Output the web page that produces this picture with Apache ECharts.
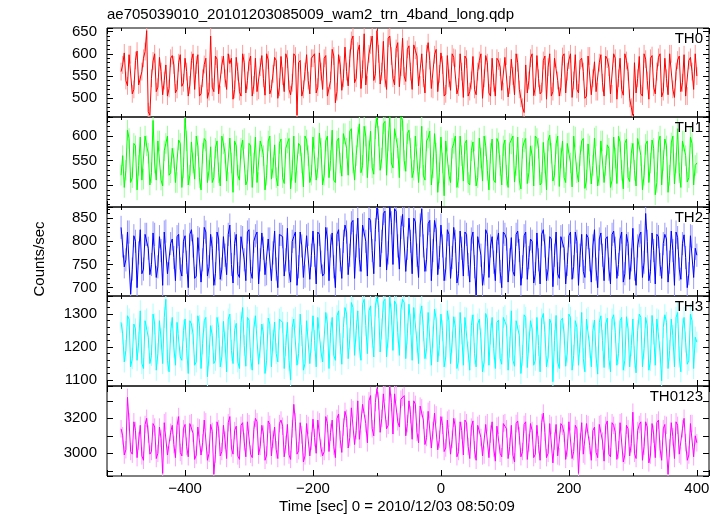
<!DOCTYPE html>
<html><head><meta charset="utf-8">
<script src="https://cdn.jsdelivr.net/npm/echarts@6/dist/echarts.min.js"></script>
<style>html,body{margin:0;padding:0;background:#fff}#c{width:723px;height:516px}</style>
</head><body><div id="c"></div>
<script>
// time bins: the "a" arrays are sampled at -500, -495, ..., 400 s;
// the "b" arrays at the half-way times -497.5, -492.5, ..., 397.5 s
const tStart = -500, tStep = 5;

const th0 = [
560, 602, 528, 598, 520, 606, 532, 590, 652, 462,
584, 515, 592, 508, 575, 522, 596, 512, 580, 527,
590, 505, 585, 520, 598, 510, 576, 500, 640, 515,
588, 508, 595, 520, 578, 498, 592, 515, 600, 512,
582, 505, 590, 518, 596, 507, 586, 522, 592, 500,
594, 515, 588, 508, 600, 462, 585, 520, 598, 510,
590, 512, 602, 520, 596, 505, 610, 490, 598, 518,
615, 528, 630, 535, 606, 522, 645, 530, 620, 540,
652, 532, 628, 520, 640, 545, 612, 526, 635, 538,
618, 520, 608, 528, 600, 512, 625, 522, 598, 515,
602, 505, 596, 518, 592, 510, 600, 502, 588, 515,
594, 508, 585, 500, 596, 512, 590, 505, 584, 518,
592, 503, 588, 508, 580, 500, 468, 512, 590, 506,
596, 510, 585, 498, 600, 515, 588, 505, 594, 512,
586, 502, 598, 512, 590, 500, 595, 508, 582, 515,
598, 505, 588, 510, 600, 498, 590, 507, 585, 500,
462, 512, 594, 505, 588, 498, 596, 510, 592, 503,
590, 508, 600, 502, 586, 515, 598, 505, 592, 520,
550];
const th0b = [
575, 540, 598, 510, 585, 530, 560, 605, 470, 545,
600, 525, 560, 540, 505, 590, 575, 520, 598, 535,
560, 530, 600, 575, 505, 545, 590, 515, 525, 595,
510, 575, 545, 600, 590, 520, 560, 505, 580, 540,
595, 530, 515, 570, 545, 600, 510, 555, 585, 525,
550, 600, 520, 535, 595, 580, 505, 560, 540, 590,
600, 525, 560, 590, 505, 540, 595, 515, 575, 545,
560, 590, 640, 545, 620, 565, 530, 600, 640, 555,
600, 560, 545, 635, 595, 530, 625, 570, 550, 610,
560, 620, 595, 530, 545, 600, 585, 520, 610, 555,
575, 510, 545, 600, 590, 525, 560, 595, 505, 540,
520, 560, 600, 545, 580, 505, 535, 590, 570, 515,
595, 530, 550, 600, 520, 480, 575, 540, 600, 525,
545, 515, 595, 570, 505, 590, 540, 525, 600, 560,
600, 540, 520, 585, 560, 505, 595, 545, 515, 580,
535, 595, 570, 510, 590, 545, 520, 600, 560, 480,
580, 545, 510, 600, 540, 590, 525, 560, 600, 515,
545, 600, 520, 560, 595, 535, 505, 585, 560, 600];

const th1 = [
520, 495, 612, 505, 585, 490, 598, 512, 580, 500,
632, 510, 590, 498, 585, 520, 575, 505, 592, 495,
636, 500, 588, 512, 580, 490, 595, 505, 578, 515,
590, 498, 584, 508, 596, 485, 580, 510, 592, 500,
585, 495, 598, 505, 578, 490, 590, 512, 582, 498,
594, 503, 586, 492, 600, 508, 580, 496, 592, 505,
598, 510, 606, 500, 590, 515, 612, 505, 596, 518,
605, 520, 615, 510, 598, 525, 620, 515, 610, 522,
638, 530, 625, 520, 640, 535, 618, 515, 632, 528,
612, 515, 600, 505, 620, 510, 596, 500, 605, 485,
598, 478, 590, 505, 585, 495, 600, 508, 592, 500,
588, 498, 596, 508, 580, 490, 594, 505, 586, 500,
592, 495, 584, 506, 598, 492, 588, 503, 580, 498,
595, 500, 587, 490, 602, 508, 584, 497, 590, 505,
586, 496, 598, 506, 590, 493, 584, 502, 596, 498,
590, 505, 582, 495, 598, 503, 588, 492, 594, 507,
585, 498, 596, 490, 583, 505, 592, 480, 588, 500,
594, 485, 586, 502, 615, 495, 590, 506, 598, 500,
545];
const th1b = [
560, 530, 595, 515, 580, 540, 510, 600, 565, 525,
545, 590, 510, 570, 600, 525, 555, 505, 585, 535,
590, 520, 545, 600, 515, 565, 590, 530, 505, 575,
525, 600, 565, 505, 545, 590, 520, 575, 595, 510,
580, 545, 505, 590, 560, 520, 600, 535, 515, 585,
515, 575, 595, 530, 505, 585, 545, 600, 560, 520,
595, 535, 575, 520, 600, 550, 510, 590, 545, 605,
575, 610, 545, 560, 625, 540, 600, 570, 535, 615,
600, 555, 630, 590, 545, 615, 575, 640, 550, 605,
575, 530, 600, 555, 520, 590, 610, 535, 565, 525,
545, 590, 520, 575, 600, 515, 560, 585, 505, 570,
590, 515, 555, 600, 530, 565, 510, 595, 540, 580,
520, 585, 600, 540, 510, 575, 595, 525, 560, 600,
575, 505, 545, 590, 565, 520, 600, 555, 515, 585,
545, 600, 525, 560, 595, 510, 580, 540, 600, 520,
590, 540, 575, 510, 555, 600, 530, 585, 515, 565,
530, 595, 560, 520, 590, 545, 575, 505, 600, 550,
580, 520, 600, 545, 525, 590, 560, 515, 585, 540];

const th2 = [
830, 745, 820, 686, 812, 700, 825, 740, 815, 728,
818, 722, 810, 705, 822, 730, 805, 715, 815, 725,
812, 700, 825, 720, 808, 712, 830, 725, 815, 705,
820, 718, 810, 728, 835, 710, 815, 722, 808, 715,
825, 720, 812, 708, 818, 728, 805, 715, 822, 700,
815, 725, 828, 712, 810, 705, 820, 722, 812, 718,
822, 708, 815, 725, 830, 715, 818, 700, 825, 720,
835, 728, 840, 720, 850, 735, 838, 725, 845, 730,
872, 745, 860, 738, 875, 750, 865, 740, 858, 735,
850, 730, 842, 722, 870, 735, 838, 715, 845, 728,
835, 715, 825, 720, 830, 710, 822, 725, 815, 712,
820, 684, 812, 705, 825, 722, 810, 715, 818, 700,
815, 712, 808, 725, 822, 705, 812, 718, 805, 710,
818, 708, 825, 715, 810, 702, 820, 720, 812, 708,
812, 718, 820, 705, 815, 722, 808, 712, 825, 700,
818, 715, 810, 708, 822, 720, 805, 712, 815, 718,
828, 705, 812, 722, 860, 715, 818, 708, 810, 720,
815, 712, 822, 705, 808, 718, 814, 700, 812, 722,
770];
const th2b = [
790, 760, 820, 740, 800, 775, 730, 815, 785, 750,
815, 745, 780, 820, 730, 795, 765, 810, 740, 800,
755, 815, 790, 725, 805, 760, 820, 745, 785, 730,
805, 740, 770, 815, 750, 795, 730, 810, 760, 820,
735, 800, 820, 760, 785, 730, 805, 775, 740, 815,
810, 760, 735, 800, 820, 745, 790, 725, 815, 770,
770, 820, 755, 730, 805, 790, 745, 815, 760, 800,
820, 770, 845, 790, 760, 835, 800, 850, 780, 825,
845, 800, 865, 775, 840, 870, 790, 830, 855, 785,
800, 850, 770, 835, 790, 760, 845, 780, 825, 765,
790, 740, 815, 765, 800, 730, 785, 820, 750, 805,
745, 810, 770, 730, 815, 790, 755, 800, 735, 820,
805, 760, 735, 815, 780, 745, 820, 765, 800, 730,
760, 815, 790, 740, 805, 770, 730, 810, 785, 750,
820, 745, 800, 770, 735, 815, 760, 790, 740, 805,
770, 805, 740, 815, 785, 750, 820, 730, 795, 760,
740, 790, 820, 755, 800, 735, 780, 815, 750, 795,
805, 755, 780, 820, 740, 795, 765, 730, 810, 785];

const th3 = [
1275, 1155, 1295, 1140, 1270, 1160, 1310, 1135, 1285, 1150,
1300, 1130, 1280, 1150, 1345, 1125, 1290, 1145, 1275, 1160,
1285, 1120, 1270, 1145, 1295, 1135, 1280, 1110, 1265, 1150,
1290, 1140, 1278, 1125, 1300, 1150, 1272, 1135, 1320, 1142,
1282, 1130, 1295, 1148, 1270, 1120, 1288, 1140, 1276, 1155,
1290, 1135, 1275, 1100, 1285, 1145, 1300, 1130, 1280, 1150,
1295, 1140, 1288, 1155, 1305, 1135, 1290, 1160, 1310, 1148,
1320, 1165, 1335, 1175, 1310, 1160, 1345, 1180, 1325, 1170,
1350, 1185, 1338, 1170, 1352, 1190, 1330, 1175, 1345, 1165,
1330, 1160, 1318, 1150, 1325, 1165, 1305, 1145, 1315, 1155,
1300, 1140, 1310, 1150, 1292, 1135, 1305, 1145, 1288, 1130,
1298, 1140, 1285, 1125, 1302, 1145, 1290, 1135, 1282, 1148,
1295, 1130, 1310, 1142, 1285, 1120, 1298, 1138, 1280, 1145,
1290, 1125, 1302, 1140, 1285, 1095, 1296, 1135, 1288, 1142,
1300, 1130, 1280, 1145, 1305, 1125, 1290, 1140, 1282, 1118,
1295, 1138, 1288, 1125, 1298, 1145, 1280, 1130, 1292, 1140,
1285, 1122, 1300, 1140, 1290, 1130, 1296, 1145, 1282, 1098,
1298, 1135, 1285, 1140, 1305, 1125, 1290, 1148, 1300, 1135,
1215];
const th3b = [
1240, 1190, 1285, 1165, 1255, 1215, 1150, 1280, 1230, 1175,
1270, 1180, 1225, 1290, 1160, 1245, 1200, 1275, 1170, 1250,
1195, 1280, 1240, 1155, 1265, 1210, 1290, 1175, 1235, 1160,
1260, 1170, 1215, 1285, 1190, 1250, 1155, 1275, 1205, 1290,
1165, 1255, 1290, 1200, 1240, 1160, 1270, 1220, 1180, 1285,
1275, 1205, 1160, 1260, 1290, 1180, 1235, 1150, 1280, 1215,
1220, 1290, 1185, 1160, 1270, 1245, 1175, 1295, 1210, 1260,
1300, 1225, 1320, 1250, 1200, 1330, 1265, 1310, 1230, 1325,
1320, 1255, 1345, 1230, 1300, 1340, 1245, 1315, 1335, 1240,
1270, 1320, 1215, 1300, 1250, 1195, 1310, 1230, 1285, 1205,
1250, 1170, 1280, 1215, 1260, 1160, 1240, 1290, 1185, 1265,
1180, 1270, 1225, 1155, 1285, 1240, 1195, 1275, 1165, 1290,
1265, 1200, 1160, 1280, 1235, 1175, 1290, 1215, 1255, 1160,
1205, 1285, 1245, 1170, 1270, 1220, 1155, 1280, 1240, 1185,
1290, 1175, 1260, 1215, 1165, 1285, 1200, 1250, 1170, 1275,
1220, 1270, 1165, 1285, 1245, 1180, 1290, 1160, 1255, 1205,
1170, 1250, 1290, 1195, 1265, 1160, 1240, 1285, 1185, 1260,
1275, 1190, 1235, 1290, 1170, 1255, 1215, 1160, 1280, 1230];

const th0123 = [
3140, 2990, 3320, 3010, 3180, 2975, 3160, 2960, 3200, 2995,
3170, 2970, 3150, 2885, 3185, 2990, 3160, 2975, 3210, 2985,
3165, 2980, 3175, 2965, 3150, 2990, 3190, 2960, 3165, 2880,
3180, 2985, 3160, 2970, 3210, 2995, 3155, 2965, 3175, 2980,
3170, 2975, 3200, 2990, 3160, 2960, 3185, 2985, 3150, 2970,
3190, 2980, 3165, 2965, 3280, 2995, 3175, 2950, 3170, 2985,
3195, 3000, 3180, 2985, 3210, 3010, 3190, 2975, 3225, 3005,
3240, 3030, 3260, 3050, 3300, 3080, 3280, 3060, 3330, 3100,
3370, 3120, 3340, 3140, 3380, 3110, 3350, 3150, 3320, 3100,
3300, 3080, 3280, 3060, 3260, 3050, 3240, 3030, 3230, 3020,
3210, 3010, 3190, 2995, 3200, 2980, 3180, 2990, 3175, 2970,
3185, 2960, 3170, 2985, 3165, 2975, 3180, 2955, 3160, 2980,
3175, 2970, 3160, 2950, 3185, 2980, 3165, 2965, 3170, 2975,
3160, 2960, 3230, 2975, 3170, 2945, 3165, 2980, 3155, 2965,
3180, 2970, 3160, 2885, 3175, 2985, 3165, 2960, 3150, 2975,
3170, 2955, 3185, 2980, 3160, 2965, 3175, 2950, 3160, 2985,
3235, 2970, 3165, 2960, 3180, 2945, 3170, 2975, 3190, 2960,
3165, 2880, 3175, 2970, 3160, 2985, 3200, 2960, 3170, 2980,
3060];
const th0123b = [
3100, 3020, 3180, 2995, 3130, 3070, 2985, 3165, 3110, 3010,
3150, 3000, 3085, 3175, 2990, 3120, 3050, 3160, 3005, 3140,
3040, 3170, 3115, 2990, 3145, 3060, 3180, 3000, 3125, 2995,
3140, 3010, 3075, 3175, 3030, 3130, 2985, 3160, 3065, 3180,
2995, 3135, 3180, 3040, 3110, 2990, 3165, 3080, 3020, 3170,
3155, 3050, 2990, 3140, 3180, 3015, 3105, 2985, 3160, 3070,
3090, 3190, 3030, 3010, 3170, 3120, 3040, 3200, 3080, 3150,
3200, 3090, 3250, 3130, 3080, 3280, 3170, 3300, 3140, 3290,
3300, 3200, 3350, 3160, 3290, 3340, 3180, 3310, 3330, 3170,
3220, 3300, 3120, 3270, 3190, 3090, 3250, 3130, 3220, 3080,
3160, 3030, 3200, 3080, 3150, 3010, 3130, 3190, 3040, 3150,
3020, 3160, 3090, 2990, 3175, 3110, 3030, 3155, 3000, 3170,
3140, 3040, 2990, 3170, 3100, 3010, 3180, 3060, 3130, 2995,
3050, 3175, 3120, 3000, 3160, 3070, 2985, 3170, 3115, 3030,
3180, 3010, 3140, 3065, 2995, 3170, 3045, 3130, 3005, 3165,
3070, 3160, 2995, 3175, 3120, 3020, 3180, 2990, 3140, 3055,
3000, 3130, 3180, 3040, 3150, 2990, 3110, 3175, 3025, 3140,
3160, 3030, 3095, 3180, 2995, 3140, 3060, 2990, 3170, 3100];

// typical 1-sigma error bar half-length per band (counts/sec)
const errors = [20, 21, 25, 32, 50];

const panelNames = ['TH0', 'TH1', 'TH2', 'TH3', 'TH0123'];
const xTickLabels = [-400, -200, 0, 200, 400];
const titleText = 'ae705039010_20101203085009_wam2_trn_4band_long.qdp';
const xAxisName = 'Time [sec] 0 = 2010/12/03 08:50:09';
const yAxisName = 'Counts/sec';

const seriesA = [th0, th1, th2, th3, th0123];
const seriesB = [th0b, th1b, th2b, th3b, th0123b];
const colors = ['#ff0000', '#00ff00', '#0000ff', '#00ffff', '#ff00ff'];
const lightColors = ['#ff9a9a', '#9aff9a', '#9a9aff', '#a8ffff', '#ffa0ff'];
const layout = [
  {top: 28,  height: 89, min: 458,  max: 658,  major: 50,  minor: 10,  label: 50},
  {top: 117, height: 90, min: 455,  max: 639,  major: 50,  minor: 10,  label: 50},
  {top: 207, height: 89, min: 682,  max: 874,  major: 50,  minor: 10,  label: 50},
  {top: 296, height: 90, min: 1082, max: 1355, major: 100, minor: 20,  label: 100},
  {top: 386, height: 90, min: 2870, max: 3385, major: 100, minor: 100, label: 200}
];
const font = '"Liberation Sans", Arial, Helvetica, sans-serif';

function mergePoints(a, b) {
  const pts = [];
  for (let k = 0; k < a.length; k++) {
    pts.push([tStart + k * tStep, a[k]]);
    if (k < b.length) pts.push([tStart + k * tStep + tStep / 2, b[k]]);
  }
  return pts;
}

const grids = [], xAxes = [], yAxes = [], series = [], graphics = [];
layout.forEach((p, i) => {
  grids.push({left: 107, right: 14, top: p.top, height: p.height, show: true,
    borderColor: '#000', borderWidth: 1, backgroundColor: 'transparent'});
  const mkX = (pos, iv, len, showLabel) => ({
    type: 'value', gridIndex: i, position: pos, min: -522, max: 419,
    minInterval: iv, maxInterval: iv, splitNumber: 5,
    axisLine: {show: false, onZero: false}, splitLine: {show: false},
    axisTick: {show: true, inside: true, length: len, lineStyle: {color: '#000', width: 1}},
    axisLabel: {show: showLabel, margin: 5, color: '#000', fontSize: 15, fontFamily: font,
      formatter: v => xTickLabels.includes(v) ? String(v).replace('-', '\u2212') : ''}
  });
  const xi = xAxes.length;
  xAxes.push(mkX('bottom', 200, 6, i === 4), mkX('bottom', 100, 3, false),
             mkX('top', 200, 6, false), mkX('top', 100, 3, false));
  const mkY = (pos, iv, len, showLabel) => ({
    type: 'value', gridIndex: i, position: pos, min: p.min, max: p.max,
    minInterval: iv, maxInterval: iv, splitNumber: 5,
    axisLine: {show: false, onZero: false}, splitLine: {show: false},
    axisTick: {show: true, inside: true, length: len, lineStyle: {color: '#000', width: 1}},
    axisLabel: {show: showLabel, margin: 10, color: '#000', fontSize: 15, fontFamily: font,
      formatter: v => (v % p.label === 0) ? String(v) : ''}
  });
  const yi = yAxes.length;
  yAxes.push(mkY('left', p.major, 6, true), mkY('left', p.minor, 3, false),
             mkY('right', p.major, 6, false), mkY('right', p.minor, 3, false));
  const pts = mergePoints(seriesA[i], seriesB[i]);
  const err = errors[i];
  series.push({
    type: 'custom', xAxisIndex: xi, yAxisIndex: yi, z: 1, animation: false,
    data: pts,
    renderItem: (params, api) => {
      const t = api.value(0), v = api.value(1);
      const a = api.coord([t, v + err]), b = api.coord([t, v - err]);
      const cs = params.coordSys;
      const y1 = Math.max(cs.y, Math.min(cs.y + cs.height, a[1]));
      const y2 = Math.max(cs.y, Math.min(cs.y + cs.height, b[1]));
      return {type: 'line', shape: {x1: a[0], y1: y1, x2: b[0], y2: y2},
        style: {stroke: lightColors[i], lineWidth: 1}};
    }
  });
  series.push({
    type: 'line', xAxisIndex: xi, yAxisIndex: yi, z: 2,
    data: pts,
    showSymbol: false, symbol: 'none', clip: true,
    lineStyle: {color: colors[i], width: 1}, itemStyle: {color: colors[i]},
    animation: false
  });
  graphics.push({type: 'text', x: 703, y: p.top + 11, z: 100,
    style: {text: panelNames[i], fill: '#000', font: '15px ' + font, textAlign: 'right', textVerticalAlign: 'middle'}});
});
graphics.push({type: 'text', x: 107, y: 15,
  style: {text: titleText, fill: '#000', font: '15px ' + font, textAlign: 'left', textVerticalAlign: 'middle'}});
graphics.push({type: 'text', x: 397, y: 507,
  style: {text: xAxisName, fill: '#000', font: '15px ' + font, textAlign: 'center', textVerticalAlign: 'middle'}});
graphics.push({type: 'text', x: 40, y: 259, rotation: Math.PI / 2,
  style: {text: yAxisName, fill: '#000', font: '15px ' + font, textAlign: 'center', textVerticalAlign: 'middle'}});

const chart = echarts.init(document.getElementById('c'), null, {renderer: 'canvas'});
chart.setOption({
  animation: false,
  backgroundColor: '#fff',
  grid: grids, xAxis: xAxes, yAxis: yAxes, series: series, graphic: graphics
});
</script>
</body></html>
